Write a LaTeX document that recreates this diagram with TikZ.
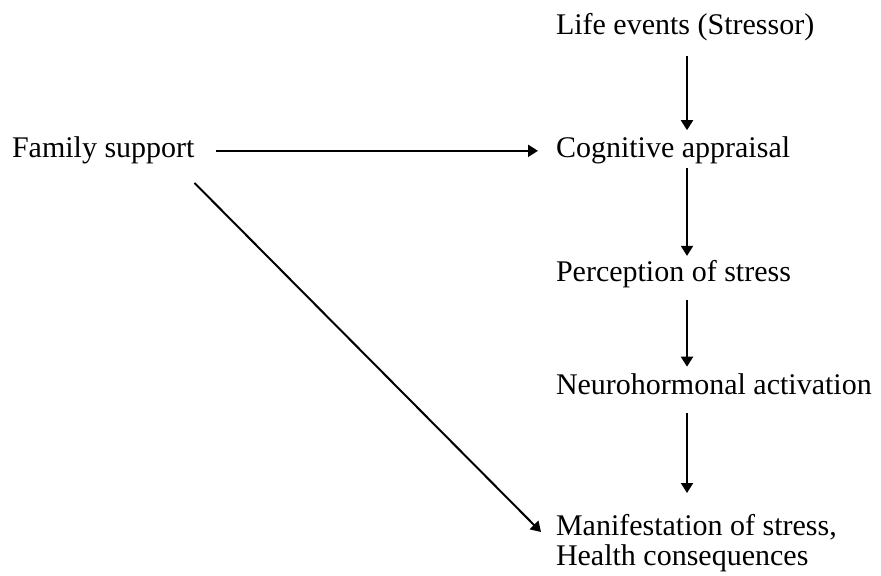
\documentclass[tikz,border=0pt]{standalone}
\usepackage{fontspec}
\setmainfont{Liberation Serif}
\usetikzlibrary{arrows.meta,calc}
\begin{document}
\begin{tikzpicture}[x=0.5pt,y=-0.5pt,
  lbl/.style={inner sep=0pt, outer sep=0pt, anchor=base west, font=\fontsize{15pt}{15pt}\selectfont},
  arr/.style={line width=1pt, -{Triangle[length=5pt,width=6pt]}}]
\useasboundingbox (0,0) rectangle (881,576);
\node[lbl] (life) at (556,35) {Life events (Stressor)};
\node[lbl] (fam) at (12,158) {Family support};
\node[lbl] (cog) at (556,158) {Cognitive appraisal};
\node[lbl] (perc) at (556,282) {Perception of stress};
\node[lbl] (neuro) at (556,394) {Neurohormonal activation};
\node[lbl, anchor=north west, align=left] (manif) at (556,514.5) {Manifestation of stress,\\Health consequences};
\coordinate (ax) at (687,0);
\draw[arr, shorten <=7.5pt, shorten >=3.5pt] (life.south -| ax) -- (cog.north -| ax);
\draw[arr, shorten <=1.75pt, shorten >=2.5pt] (cog.south -| ax) -- (perc.north -| ax);
\draw[arr, shorten <=5.75pt, shorten >=3.25pt] (perc.south -| ax) -- (neuro.north -| ax);
\draw[arr, shorten <=9.5pt, shorten >=10.75pt] (neuro.south -| ax) -- (manif.north -| ax);
\draw[arr, shorten <=10.5pt, shorten >=9pt] (fam.east) -- (cog.west);
\draw[arr] ($(fam.south east)+(0,18.5)$) -- ($(manif.north west)+(-15,17.5)$);
\end{tikzpicture}
\end{document}
